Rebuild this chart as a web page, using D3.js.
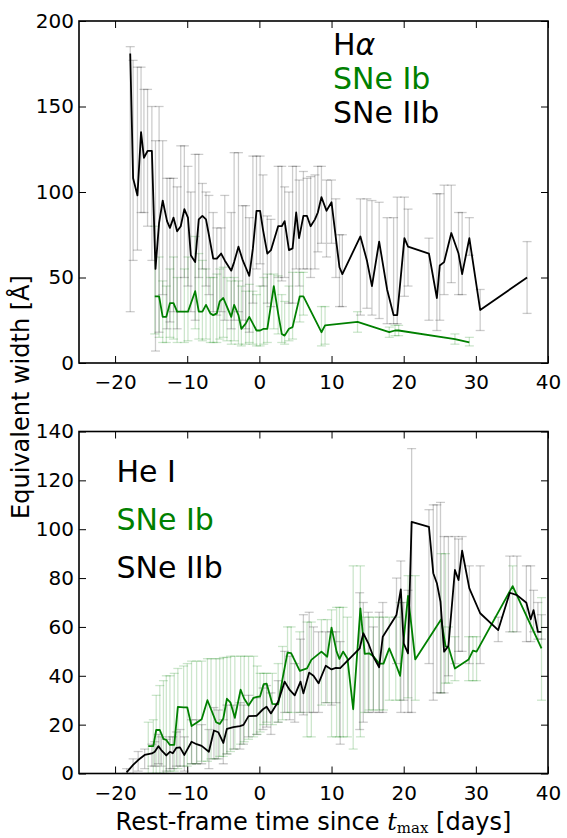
<!DOCTYPE html>
<html><head><meta charset="utf-8">
<script src="https://cdn.jsdelivr.net/npm/d3@7"></script>
<style>body{margin:0;background:#fff}svg{display:block}text{font-family:"DejaVu Sans",sans-serif}</style>
</head><body>
<script>
// ---- Top panel: H-alpha ----
const haIIbT = [-17.9,-17.5,-16.9,-16.4,-16.0,-15.5,-14.9,-14.4,-13.9,-13.4,-12.8,-12.4,-11.9,-11.4,-10.9,-10.4,-9.9,-9.5,-8.9,-8.4,-7.9,-7.4,-7.0,-6.4,-5.9,-5.3,-4.8,-3.9,-3.5,-2.9,-2.3,-1.9,-1.4,-0.9,-0.4,0.1,0.5,1.1,1.6,2.6,3.1,3.5,4.1,4.6,5.1,5.5,6.1,6.6,7.1,7.7,8.1,8.6,9.3,10.0,10.6,11.1,11.5,14.0,14.9,15.6,16.6,17.7,18.6,19.1,20.1,20.6,23.5,24.6,25.0,25.6,26.6,27.6,28.1,29.1,30.6,37.1];
const haIIbY = [181,108,98,135,120,124,124,55,82,95,83,79,85,77,80,90,85,63,59,84,86,84,75,61,61,64,60,54,59,68,60,56,51,67,89,89,78,64,66,80,80,83,66,67,88,73,86,86,80,84,88,97,89,94,73,56,52,74,60,45,71,43,28,28,73,68,64,38,57,59,76,64,52,73,31,50];
const haIIbLo = [30,60,66,88,88,80,60,7,18,40,20,24,30,20,30,50,45,30,25,50,55,45,40,30,28,30,25,20,25,30,25,20,18,35,55,58,45,35,33,50,48,50,35,35,55,45,55,55,50,55,65,70,62,70,50,33,33,28,32,28,26,23,23,23,39,45,25,19,25,40,47,40,40,63,19,29];
const haIIbHi = [185,177,173,173,160,160,150,130,150,130,108,108,108,103,127,127,115,100,122,122,105,100,98,88,79,79,98,88,123,123,92,92,85,121,121,121,110,86,84,115,115,103,100,115,115,107,112,108,109,110,115,115,107,107,96,75,75,96,96,95,94,85,85,97,97,90,73,99,99,104,104,88,88,85,43,71];

const haIbT = [-14.5,-13.9,-13.4,-12.9,-12.4,-11.9,-11.4,-10.4,-9.9,-8.9,-8.4,-7.9,-7.4,-6.8,-6.4,-5.9,-5.5,-5.0,-4.5,-3.9,-3.5,-2.9,-2.5,-1.9,-1.4,-0.9,-0.4,0.1,0.6,1.1,2.0,2.6,3.1,3.5,4.1,4.6,5.6,6.1,8.6,9.1,13.6,18.0,18.8,19.3,27.1,29.1];
const haIbY = [39,39,27,27,35,35,30,30,30,42,30,30,34,29,28,29,36,38,33,27,34,28,20,23,27,23,19,19,20,20,45,29,17,16,20,21,39,39,18,22,24,18,19,19,14,12];
const haIbLo = [17,15,12,12,15,14,12,12,13,20,14,13,14,12,12,12,14,15,13,11,13,11,10,11,12,11,10,10,11,12,20,17,12,11,13,14,24,28,10,11,18,15,16,16,11,10];
const haIbHi = [80,62,48,45,55,62,50,55,62,74,64,60,55,50,50,52,55,56,50,48,50,48,45,42,46,42,40,45,50,52,52,51,40,36,45,53,53,53,33,33,30,21,22,22,17,15];

// ---- Bottom panel: He I ----
const heIIbT = [-18.4,-17.5,-16.8,-15.9,-14.9,-14.5,-14.0,-13.6,-12.9,-12.4,-12.0,-11.5,-11.0,-10.4,-9.4,-8.7,-8.0,-7.0,-6.3,-5.7,-5.0,-4.5,-3.6,-2.7,-2.2,-1.5,-0.4,0.5,1.0,1.6,2.6,3.5,4.2,4.9,5.7,6.1,6.9,7.5,8.2,9.2,10.0,10.6,11.2,13.9,14.4,15.1,15.8,16.6,17.1,19.0,19.6,20.0,20.6,21.1,23.5,24.1,24.6,25.1,25.6,26.2,27.1,27.6,28.1,29.1,30.6,33.1,34.7,35.7,37.0,37.6,38.0,38.6,39.1];
const heIIbY = [0.5,3.5,5.5,7.6,8.2,8.9,11.2,9.6,7.4,8.9,8.3,10.5,10.7,7.6,13,12,11.3,8.9,17.6,16.9,12.5,18.3,19,19.4,19.9,23.5,23.6,26.3,27.3,24.6,29.4,37.6,34.2,32,37.6,32.8,41.3,40,36.9,44.1,42.6,43.2,43.1,51.2,57.4,53.3,47.8,43.5,56,64.9,75.4,53.3,49.2,103,101,82,77.9,70.3,49.9,52.2,83.3,79.2,91.2,75.8,65.6,58.7,74,73,69.9,63.1,66.9,58,58];
const heIIbLo = [0,0,1,2,3,3,4,3,1,2,2,3,3,1,4,4,4,2,6,6,4,8,10,10,12,15,16,18,19,16,21,25,22,21,25,24,25,25,25,29,28,29,12,18,21,25,25,25,25,45,25,30,25,25,45,30,33,33,33,40,45,50,50,45,45,54,58,58,54,54,58,55,55];
const heIIbHi = [2,6,9,10,12,13,16,15,14,15,15,17,18,15,22,22,20,18,27,26,22,28,28,29,28,32,31,35,36,33,38,50,48,45,55,65,66,60,58,58,58,58,54,74,70,66,60,66,70,80,87,70,75,133,108,110,110,111,97,97,97,96,97,85,85,64,89,89,85,85,75,70,65];

const heIbT = [-15.4,-14.7,-14.3,-13.8,-13.3,-12.9,-12.4,-11.8,-11.3,-10.5,-10.0,-9.4,-8.7,-8.0,-7.2,-6.7,-6.0,-5.5,-5.0,-4.5,-4.0,-3.4,-2.6,-2.1,-1.5,-0.8,-0.3,0.1,0.6,1.0,1.8,2.6,3.2,3.9,4.4,5.6,6.6,7.2,8.6,9.4,10.0,10.7,11.1,11.6,12.2,13.0,14.0,14.6,15.2,15.8,16.6,17.2,18.0,18.9,19.5,20.6,21.6,25.2,25.8,26.2,27.1,29.0,29.6,30.1,35.1,39.1];
const heIbY = [11.2,11.2,17.8,17.8,14.2,13.7,11.7,11.7,27.3,27.1,27.1,19.4,20.8,22.2,30,26.3,21,20.3,22.5,30.6,29,22.8,34.3,30.6,27.8,31,31.4,31.6,36.6,36.8,28.5,28.3,38.6,49.5,49.3,42,43,46.5,49.9,47.8,59.7,49.9,46.9,49.9,47.1,26.3,67.6,49,49.2,48,45,45,51.2,44.8,40,72.7,46.7,63.1,52,51.9,43,46.7,50.3,49.9,76.7,51.2];
const heIbLo = [0,0,0,0,0,0,1,1,2,3,3,4,4,5,5,6,6,7,7,8,9,10,12,13,14,15,16,17,20,21,20,21,22,25,25,25,15,15,28,29,15,15,15,15,15,10,15,25,26,26,26,26,30,30,30,31,30,33,37,37,38,38,38,38,58,30];
const heIbHi = [21,22,32,36,38,40,40,41,43,44,45,46,46,46,47,47,47,47,47.5,47.5,48,48,48,48,48,48,44,41,41,41,41,45,52,60,60,58,62,62,63,63,67,68,68,68,64,85,85,64,64,64,64,64,64,64,70,81,81,90,90,60,56,56,56,56,85,72];

const xTicks = [-20,-10,0,10,20,30,40];
const yTicksTop = [0,50,100,150,200];
const yTicksBot = [0,20,40,60,80,100,120,140];

const W = 567, H = 838;
const GREEN = "#008000";
const svg = d3.select("body").append("svg").attr("width", W).attr("height", H);

const L = 79, R = 548;
const x = d3.scaleLinear().domain([-25, 40]).range([L, R]);

function zip(t, y, lo, hi) { return t.map((d, i) => ({t: d, y: y[i], lo: lo[i], hi: hi[i]})); }

function panel(top, bottom, yDomain, yTicks, series, legend) {
  const y = d3.scaleLinear().domain(yDomain).range([bottom, top]);
  const g = svg.append("g");
  const clipId = "clip" + Math.round(top);
  svg.append("clipPath").attr("id", clipId).append("rect")
    .attr("x", L).attr("y", top).attr("width", R - L).attr("height", bottom - top);
  const plot = g.append("g").attr("clip-path", `url(#${clipId})`);

  series.forEach(s => {
    const eb = plot.append("g").attr("stroke", s.color).attr("stroke-opacity", s.ebAlpha).attr("stroke-width", 1.3).attr("fill", "none");
    s.data.forEach(d => {
      const cx = x(d.t);
      eb.append("line").attr("x1", cx).attr("x2", cx).attr("y1", y(d.lo)).attr("y2", y(d.hi));
      eb.append("line").attr("x1", cx - 4.5).attr("x2", cx + 4.5).attr("y1", y(d.lo)).attr("y2", y(d.lo));
      eb.append("line").attr("x1", cx - 4.5).attr("x2", cx + 4.5).attr("y1", y(d.hi)).attr("y2", y(d.hi));
    });
  });
  series.forEach(s => {
    plot.append("path").datum(s.data)
      .attr("d", d3.line().x(d => x(d.t)).y(d => y(d.y)))
      .attr("fill", "none").attr("stroke", s.color).attr("stroke-width", 1.8)
      .attr("stroke-linejoin", "round");
  });

  const ax = g.append("g");
  ax.append("g").attr("transform", `translate(0,${bottom})`)
    .call(d3.axisBottom(x).tickValues(xTicks).tickSize(-7).tickPadding(12));
  ax.append("g").attr("transform", `translate(0,${top})`)
    .call(d3.axisTop(x).tickValues(xTicks).tickSize(-7).tickFormat(""));
  ax.append("g").attr("transform", `translate(${L},0)`)
    .call(d3.axisLeft(y).tickValues(yTicks).tickSize(-7).tickPadding(5));
  ax.append("g").attr("transform", `translate(${R},0)`)
    .call(d3.axisRight(y).tickValues(yTicks).tickSize(-7).tickFormat(""));
  ax.selectAll(".domain").remove();
  ax.selectAll(".tick line").attr("stroke", "#000").attr("stroke-width", 1);
  ax.selectAll(".tick text").attr("fill", "#000")
    .style("font-family", '"DejaVu Sans",sans-serif').style("font-size", "20px");
  g.append("rect").attr("x", L).attr("y", top).attr("width", R - L).attr("height", bottom - top)
    .attr("fill", "none").attr("stroke", "#000").attr("stroke-width", 1.6);

  const lg = g.append("g").style("font-size", "30px");
  legend.items.forEach((it, i) => {
    const t = lg.append("text").attr("x", legend.x).attr("y", legend.y + i * legend.dy).attr("fill", it.color);
    if (it.alpha) {
      t.append("tspan").text("H");
      t.append("tspan").attr("font-style", "italic").text("α");
    } else t.text(it.text);
  });
  return y;
}

panel(21, 363, [0, 200], yTicksTop, [
  {data: zip(haIbT, haIbY, haIbLo, haIbHi), color: GREEN, ebAlpha: 0.2},
  {data: zip(haIIbT, haIIbY, haIIbLo, haIIbHi), color: "#000", ebAlpha: 0.2}
], {x: 333, y: 55, dy: 34, items: [{alpha: true, color: "#000"}, {text: "SNe Ib", color: GREEN}, {text: "SNe IIb", color: "#000"}]});

panel(431.5, 773.5, [0, 140], yTicksBot, [
  {data: zip(heIbT, heIbY, heIbLo, heIbHi), color: GREEN, ebAlpha: 0.2},
  {data: zip(heIIbT, heIIbY, heIIbLo, heIIbHi), color: "#000", ebAlpha: 0.2}
], {x: 116.5, y: 481.5, dy: 48.3, items: [{text: "He I", color: "#000"}, {text: "SNe Ib", color: GREEN}, {text: "SNe IIb", color: "#000"}]});

const xl = svg.append("text").attr("x", (L + R) / 2).attr("y", 830).attr("text-anchor", "middle").style("font-size", "24px");
xl.append("tspan").text("Rest-frame time since ");
xl.append("tspan").style("font-family", '"DejaVu Serif",serif').attr("font-style", "italic").text("t");
xl.append("tspan").style("font-family", '"DejaVu Serif",serif').style("font-size", "15px").attr("dy", 3).text("max");
xl.append("tspan").attr("dy", -3).text(" [days]");

svg.append("text").attr("transform", "translate(29,397) rotate(-90)").attr("text-anchor", "middle")
  .style("font-size", "24px").text("Equivalent width [Å]");
</script>
</body></html>
